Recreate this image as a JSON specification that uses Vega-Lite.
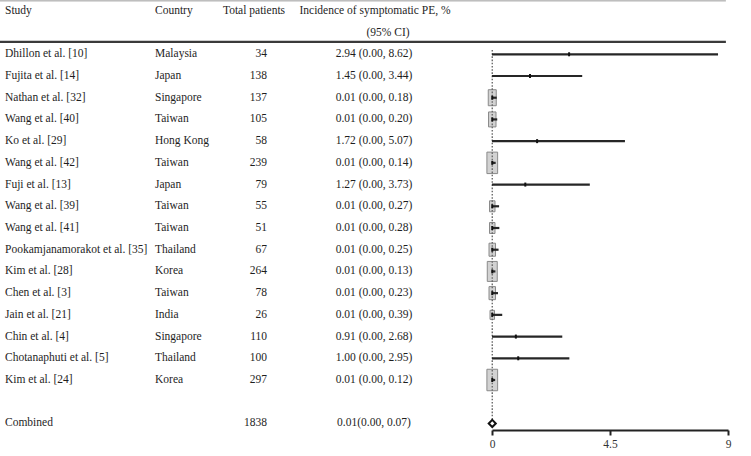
{
  "$schema": "https://vega.github.io/schema/vega-lite/v6.json",
  "width": 751,
  "height": 456,
  "autosize": {"type": "none"},
  "padding": 0,
  "background": "white",
  "config": {
    "view": {"stroke": null},
    "font": "Liberation Serif",
    "text": {"font": "Liberation Serif", "fontSize": 11.5, "color": "#1e1e1e", "baseline": "middle"}
  },
  "datasets": {
    "studies": [
      {"row": 0, "study": "Dhillon et al. [10]", "country": "Malaysia", "n": 34, "est": 2.94, "lo": 0.0, "hi": 8.62, "ci": "2.94 (0.00, 8.62)", "w": 0},
      {"row": 1, "study": "Fujita et al. [14]", "country": "Japan", "n": 138, "est": 1.45, "lo": 0.0, "hi": 3.44, "ci": "1.45 (0.00, 3.44)", "w": 0},
      {"row": 2, "study": "Nathan et al. [32]", "country": "Singapore", "n": 137, "est": 0.01, "lo": 0.0, "hi": 0.18, "ci": "0.01 (0.00, 0.18)", "w": 10.4},
      {"row": 3, "study": "Wang et al. [40]", "country": "Taiwan", "n": 105, "est": 0.01, "lo": 0.0, "hi": 0.2, "ci": "0.01 (0.00, 0.20)", "w": 9.1},
      {"row": 4, "study": "Ko et al. [29]", "country": "Hong Kong", "n": 58, "est": 1.72, "lo": 0.0, "hi": 5.07, "ci": "1.72 (0.00, 5.07)", "w": 0},
      {"row": 5, "study": "Wang et al. [42]", "country": "Taiwan", "n": 239, "est": 0.01, "lo": 0.0, "hi": 0.14, "ci": "0.01 (0.00, 0.14)", "w": 18.7},
      {"row": 6, "study": "Fuji et al. [13]", "country": "Japan", "n": 79, "est": 1.27, "lo": 0.0, "hi": 3.73, "ci": "1.27 (0.00, 3.73)", "w": 0},
      {"row": 7, "study": "Wang et al. [39]", "country": "Taiwan", "n": 55, "est": 0.01, "lo": 0.0, "hi": 0.27, "ci": "0.01 (0.00, 0.27)", "w": 4.9},
      {"row": 8, "study": "Wang et al. [41]", "country": "Taiwan", "n": 51, "est": 0.01, "lo": 0.0, "hi": 0.28, "ci": "0.01 (0.00, 0.28)", "w": 4.9},
      {"row": 9, "study": "Pookamjanamorakot et al. [35]", "country": "Thailand", "n": 67, "est": 0.01, "lo": 0.0, "hi": 0.25, "ci": "0.01 (0.00, 0.25)", "w": 6.9},
      {"row": 10, "study": "Kim et al. [28]", "country": "Korea", "n": 264, "est": 0.01, "lo": 0.0, "hi": 0.13, "ci": "0.01 (0.00, 0.13)", "w": 16.2},
      {"row": 11, "study": "Chen et al. [3]", "country": "Taiwan", "n": 78, "est": 0.01, "lo": 0.0, "hi": 0.23, "ci": "0.01 (0.00, 0.23)", "w": 6.9},
      {"row": 12, "study": "Jain et al. [21]", "country": "India", "n": 26, "est": 0.01, "lo": 0.0, "hi": 0.39, "ci": "0.01 (0.00, 0.39)", "w": 3.3},
      {"row": 13, "study": "Chin et al. [4]", "country": "Singapore", "n": 110, "est": 0.91, "lo": 0.0, "hi": 2.68, "ci": "0.91 (0.00, 2.68)", "w": 0},
      {"row": 14, "study": "Chotanaphuti et al. [5]", "country": "Thailand", "n": 100, "est": 1.0, "lo": 0.0, "hi": 2.95, "ci": "1.00 (0.00, 2.95)", "w": 0},
      {"row": 15, "study": "Kim et al. [24]", "country": "Korea", "n": 297, "est": 0.01, "lo": 0.0, "hi": 0.12, "ci": "0.01 (0.00, 0.12)", "w": 18.7}
    ],
    "pooled": [
      {"row": 17, "study": "Combined", "country": "", "n": 1838, "est": 0.01, "lo": 0.0, "hi": 0.07, "ci": "0.01(0.00, 0.07)"}
    ]
  },
  "layer": [
    {
      "data": {"values": [{}]},
      "mark": {"type": "rule", "color": "#9a9a9a", "strokeWidth": 1},
      "encoding": {
        "y": {"datum": -2.46, "type": "quantitative", "scale": {"domain": [-2.5, 18.5], "range": [0, 456], "nice": false, "zero": false}, "axis": null},
        "x": {
          "datum": -18.77,
          "type": "quantitative",
          "scale": {"domain": [0, 9], "range": [492, 728], "nice": false, "zero": false},
          "title": null,
          "axis": {
            "values": [0, 4.5, 9],
            "format": "~g",
            "offset": -26,
            "grid": false,
            "labelFlush": false,
            "domainColor": "#222222",
            "domainWidth": 2,
            "tickColor": "#222222",
            "tickWidth": 2,
            "tickSize": 5,
            "labelFont": "Liberation Serif",
            "labelFontSize": 11.5,
            "labelColor": "#333333",
            "labelPadding": 3,
            "title": null
          }
        },
        "x2": {"datum": 8.92}
      }
    },
    {
      "data": {"values": [{}]},
      "mark": {"type": "rule", "color": "#3a3a3a", "strokeWidth": 2.2},
      "encoding": {
        "y": {"datum": -0.57, "type": "quantitative", "axis": null},
        "x": {"datum": -18.77, "type": "quantitative", "title": null},
        "x2": {"datum": 8.92}
      }
    },
    {
      "data": {"values": [{}]},
      "mark": {"type": "text", "align": "left", "text": "Study"},
      "encoding": {"y": {"datum": -2, "type": "quantitative", "axis": null}, "x": {"value": 5}}
    },
    {
      "data": {"values": [{}]},
      "mark": {"type": "text", "align": "left", "text": "Country"},
      "encoding": {"y": {"datum": -2, "type": "quantitative", "axis": null}, "x": {"value": 155}}
    },
    {
      "data": {"values": [{}]},
      "mark": {"type": "text", "align": "center", "text": "Total patients"},
      "encoding": {"y": {"datum": -2, "type": "quantitative", "axis": null}, "x": {"value": 254}}
    },
    {
      "data": {"values": [{}]},
      "mark": {"type": "text", "align": "center", "text": "Incidence of symptomatic PE, %"},
      "encoding": {"y": {"datum": -2, "type": "quantitative", "axis": null}, "x": {"value": 375}}
    },
    {
      "data": {"values": [{}]},
      "mark": {"type": "text", "align": "center", "text": "(95% CI)"},
      "encoding": {"y": {"datum": -1, "type": "quantitative", "axis": null}, "x": {"value": 388}}
    },
    {
      "data": {"name": "studies"},
      "mark": {"type": "point", "shape": "M-0.5,-1H0.5V1H-0.5Z", "filled": true, "fill": "#d2d2d2", "stroke": "#8a8a8a", "strokeWidth": 1, "opacity": 1},
      "encoding": {
        "x": {"field": "est", "type": "quantitative", "title": null},
        "y": {"field": "row", "type": "quantitative", "axis": null},
        "size": {"field": "w", "type": "quantitative", "scale": {"domain": [0, 20], "range": [0, 493]}, "legend": null}
      }
    },
    {
      "data": {"values": [{}]},
      "mark": {"type": "rule", "color": "#6a6a6a", "strokeWidth": 1.4, "strokeDash": [1.6, 1.6]},
      "encoding": {
        "x": {"datum": 0.01, "type": "quantitative", "title": null},
        "y": {"datum": -0.2, "type": "quantitative", "axis": null},
        "y2": {"datum": 17}
      }
    },
    {
      "data": {"name": "studies"},
      "mark": {"type": "rule", "color": "#262626", "strokeWidth": 2.2},
      "encoding": {
        "x": {"field": "lo", "type": "quantitative", "title": null},
        "x2": {"field": "hi"},
        "y": {"field": "row", "type": "quantitative", "axis": null}
      }
    },
    {
      "data": {"name": "studies"},
      "mark": {"type": "point", "shape": "M-0.5,-1H0.5V1H-0.5Z", "filled": true, "color": "#111111", "size": 16, "opacity": 1},
      "encoding": {
        "x": {"field": "est", "type": "quantitative", "title": null},
        "y": {"field": "row", "type": "quantitative", "axis": null}
      }
    },
    {
      "data": {"name": "pooled"},
      "mark": {"type": "point", "shape": "diamond", "filled": true, "fill": "white", "stroke": "#111111", "strokeWidth": 2, "size": 50, "opacity": 1},
      "encoding": {
        "x": {"field": "est", "type": "quantitative", "title": null},
        "y": {"field": "row", "type": "quantitative", "axis": null}
      }
    },
    {
      "data": {"name": "studies"},
      "mark": {"type": "text", "align": "left"},
      "encoding": {"y": {"field": "row", "type": "quantitative", "axis": null}, "x": {"value": 5}, "text": {"field": "study"}}
    },
    {
      "data": {"name": "pooled"},
      "mark": {"type": "text", "align": "left"},
      "encoding": {"y": {"field": "row", "type": "quantitative", "axis": null}, "x": {"value": 5}, "text": {"field": "study"}}
    },
    {
      "data": {"name": "studies"},
      "mark": {"type": "text", "align": "left"},
      "encoding": {"y": {"field": "row", "type": "quantitative", "axis": null}, "x": {"value": 155}, "text": {"field": "country"}}
    },
    {
      "data": {"name": "studies"},
      "mark": {"type": "text", "align": "right"},
      "encoding": {"y": {"field": "row", "type": "quantitative", "axis": null}, "x": {"value": 267}, "text": {"field": "n"}}
    },
    {
      "data": {"name": "pooled"},
      "mark": {"type": "text", "align": "right"},
      "encoding": {"y": {"field": "row", "type": "quantitative", "axis": null}, "x": {"value": 267}, "text": {"field": "n"}}
    },
    {
      "data": {"name": "studies"},
      "mark": {"type": "text", "align": "center"},
      "encoding": {"y": {"field": "row", "type": "quantitative", "axis": null}, "x": {"value": 374}, "text": {"field": "ci"}}
    },
    {
      "data": {"name": "pooled"},
      "mark": {"type": "text", "align": "center"},
      "encoding": {"y": {"field": "row", "type": "quantitative", "axis": null}, "x": {"value": 374}, "text": {"field": "ci"}}
    }
  ]
}
